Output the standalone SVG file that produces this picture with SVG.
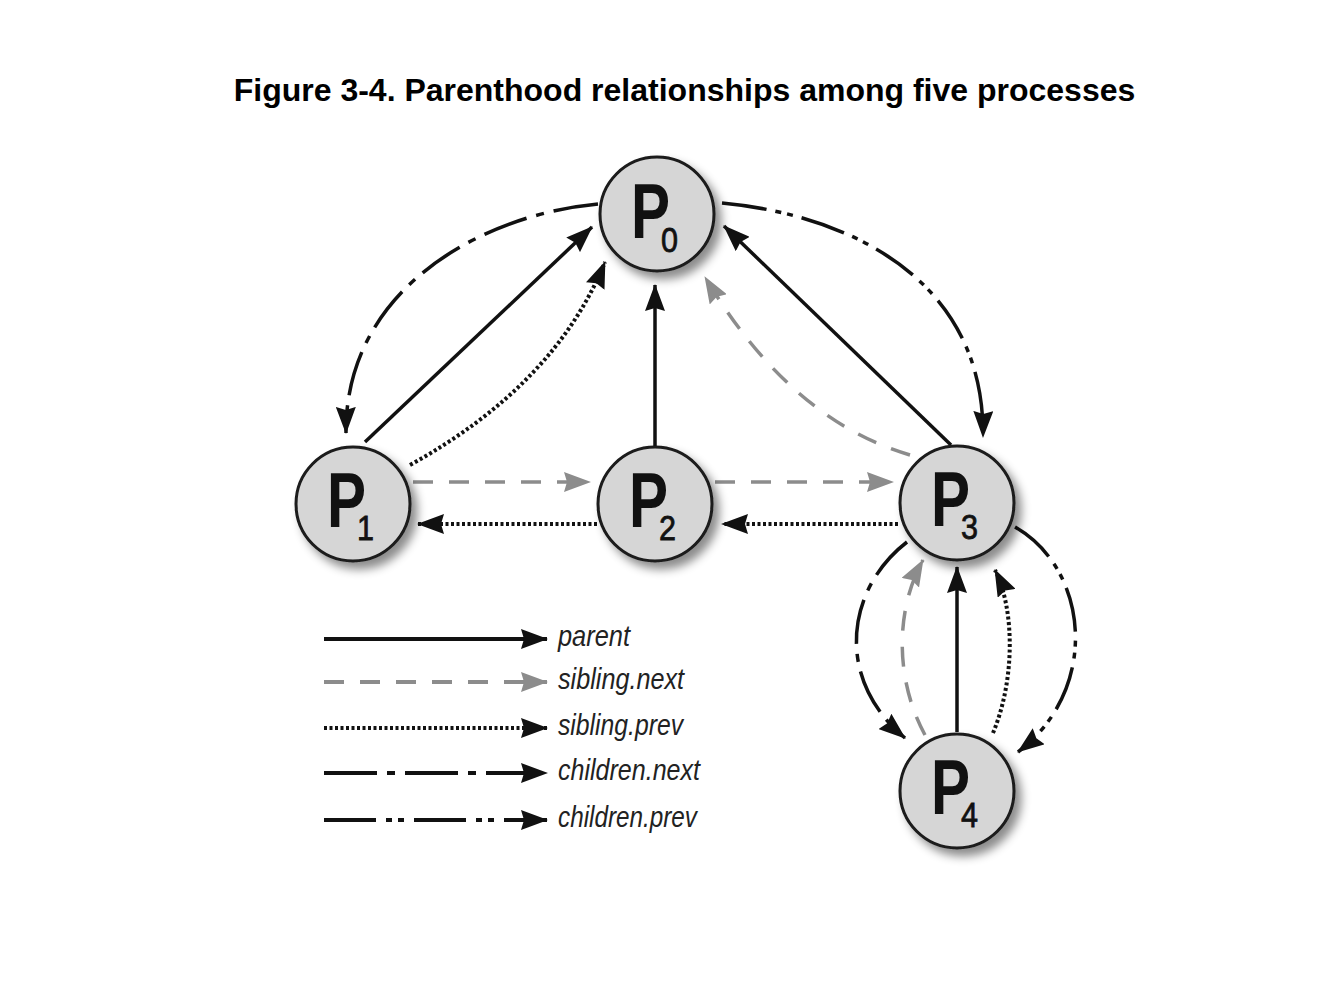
<svg xmlns="http://www.w3.org/2000/svg" width="1342" height="994" viewBox="0 0 1342 994">
<style>
.title{font-family:"Liberation Sans",Arial,sans-serif;font-weight:bold;font-size:32px;fill:#000}
.node circle{fill:#d6d6d6;stroke:#1a1a1a;stroke-width:3;filter:url(#sh)}
.pl{font-family:"Liberation Sans",Arial,sans-serif;font-weight:bold;font-size:78px;fill:#111}
.sub{font-weight:normal;font-size:35px;stroke:#111;stroke-width:0.8}
.c{fill:none;stroke:#111;stroke-width:3.5}
.parent{marker-end:url(#ab)}
.snext{stroke:#8c8c8c;stroke-dasharray:20 16;marker-end:url(#ag)}
.sprev{stroke-dasharray:3 2.5;stroke-width:4;marker-end:url(#ab)}
.cnext{stroke-dasharray:45 10 8 10;marker-end:url(#ab)}
.cprev{stroke-dasharray:45 9 6 6 6 9;marker-end:url(#ab)}
.lg{font-family:"Liberation Sans",Arial,sans-serif;font-style:italic;font-size:29px;fill:#222}
</style>
<defs>
<filter id="sh" x="-30%" y="-30%" width="170%" height="170%">
<feDropShadow dx="6" dy="7" stdDeviation="5" flood-color="#000" flood-opacity="0.45"/>
</filter>
<marker id="ab" viewBox="0 0 27 20" refX="26" refY="10" markerWidth="27" markerHeight="20" markerUnits="userSpaceOnUse" orient="auto">
<path d="M0,0 L27,10 L0,20 L3,10 z" fill="#111"/>
</marker>
<marker id="ag" viewBox="0 0 27 20" refX="26" refY="10" markerWidth="27" markerHeight="20" markerUnits="userSpaceOnUse" orient="auto">
<path d="M0,0 L27,10 L0,20 L3,10 z" fill="#8c8c8c"/>
</marker>
</defs>
<rect width="1342" height="994" fill="#fff"/>
<text class="title" x="684.5" y="101" text-anchor="middle">Figure 3-4. Parenthood relationships among five processes</text>

<g id="connectors">
<path class="c parent" d="M365,442 L592,227"/>
<path class="c sprev" d="M410,465 Q555,385 605,262"/>
<path class="c cnext" d="M598,204 C480,215 345,290 346,433"/>
<path class="c parent" d="M655,446 L655,285"/>
<path class="c parent" d="M951,445 L724,226"/>
<path class="c snext" d="M910,455 Q790,420 705,277"/>
<path class="c cprev" d="M722,203 C850,215 985,280 983,437"/>
<path class="c snext" d="M413,482 L590,482"/>
<path class="c sprev" d="M597,524 L418,524"/>
<path class="c snext" d="M715,482 L893,482"/>
<path class="c sprev" d="M898,524 L722,524"/>
<path class="c cnext" d="M907,542 C845,590 835,680 905,738"/>
<path class="c snext" d="M925,735 C895,680 895,610 923,560"/>
<path class="c parent" d="M957,732 L957,567"/>
<path class="c sprev" d="M993,733 C1015,680 1015,610 995,570"/>
<path class="c cprev" d="M1015,527 C1090,570 1100,690 1018,752"/>
</g>

<g id="P0" class="node"><circle cx="657" cy="214" r="57"/><text class="pl"><tspan x="631" y="238" textLength="39" lengthAdjust="spacingAndGlyphs">P</tspan><tspan class="sub" x="661" y="252" textLength="17" lengthAdjust="spacingAndGlyphs">0</tspan></text></g>
<g id="P1" class="node"><circle cx="353" cy="504" r="57"/><text class="pl"><tspan x="327" y="527" textLength="39" lengthAdjust="spacingAndGlyphs">P</tspan><tspan class="sub" x="357" y="540" textLength="17" lengthAdjust="spacingAndGlyphs">1</tspan></text></g>
<g id="P2" class="node"><circle cx="655" cy="504" r="57"/><text class="pl"><tspan x="629" y="527" textLength="39" lengthAdjust="spacingAndGlyphs">P</tspan><tspan class="sub" x="659" y="540" textLength="17" lengthAdjust="spacingAndGlyphs">2</tspan></text></g>
<g id="P3" class="node"><circle cx="957" cy="503" r="57"/><text class="pl"><tspan x="931" y="526" textLength="39" lengthAdjust="spacingAndGlyphs">P</tspan><tspan class="sub" x="961" y="539" textLength="17" lengthAdjust="spacingAndGlyphs">3</tspan></text></g>
<g id="P4" class="node"><circle cx="957" cy="791" r="57"/><text class="pl"><tspan x="931" y="814" textLength="39" lengthAdjust="spacingAndGlyphs">P</tspan><tspan class="sub" x="961" y="827" textLength="17" lengthAdjust="spacingAndGlyphs">4</tspan></text></g>

<g id="legend">
<path class="c parent" style="stroke-width:4" d="M324,639 L547,639"/>
<text class="lg" x="558" y="646" textLength="72" lengthAdjust="spacingAndGlyphs">parent</text>
<path class="c snext" style="stroke-width:4" d="M324,682 L547,682"/>
<text class="lg" x="558" y="689" textLength="126" lengthAdjust="spacingAndGlyphs">sibling.next</text>
<path class="c sprev" d="M324,728 L547,728"/>
<text class="lg" x="558" y="735" textLength="125" lengthAdjust="spacingAndGlyphs">sibling.prev</text>
<path class="c" style="stroke-width:4;stroke-dasharray:53 10 8 10;marker-end:url(#ab)" d="M324,773 L547,773"/>
<text class="lg" x="558" y="780" textLength="142" lengthAdjust="spacingAndGlyphs">children.next</text>
<path class="c" style="stroke-width:4;stroke-dasharray:52 10 6 6 6 10;marker-end:url(#ab)" d="M324,820 L547,820"/>
<text class="lg" x="558" y="827" textLength="139" lengthAdjust="spacingAndGlyphs">children.prev</text>
</g>
</svg>
